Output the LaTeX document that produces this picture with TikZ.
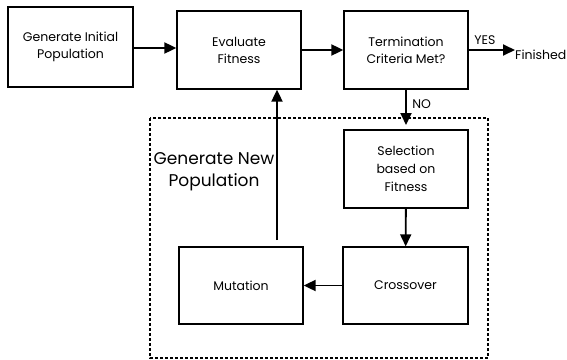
\documentclass[tikz,border=0pt]{standalone}
\usepackage{fontspec}
\setmainfont{Poppins}
\usetikzlibrary{arrows.meta}
\begin{document}
\begin{tikzpicture}[x=1pt,y=-1pt,>={Triangle[length=12pt,width=11pt]},
    blk/.style={draw,line width=1.3pt,minimum width=124pt,minimum height=78pt,inner sep=0pt,align=center,font=\fontsize{12.5}{17}\selectfont},
    flow/.style={->,line width=1.9pt},
    grp/.style={line width=1.2pt,dash pattern=on 3pt off 2pt}]
    \useasboundingbox(0,0)rectangle(567,359);
    \draw[grp](150,118)rectangle(488,358);
    \node[blk,minimum width=125pt,minimum height=80pt](init)at(70.5,47){Generate Initial\\Population};
    \node[blk](eval)at(239,50){Evaluate\\Fitness};
    \node[blk](term)at(406,50){Termination\\Criteria Met?};
    \node[blk,minimum height=78pt,font=\fontsize{12.5}{18}\selectfont](sel)at(406,169){Selection\\based on\\Fitness};
    \node[blk,minimum width=125pt,minimum height=77pt](cross)at(405.5,285.5){Crossover};
    \node[blk,minimum height=77pt](mut)at(241,285.5){Mutation};
    \node[align=center,font=\fontsize{17}{22}\selectfont](newpop)at(214,172){Generate New\\Population};
    \node[anchor=west,inner sep=0pt,font=\fontsize{12.5}{14}\selectfont](fin)at(515,55){Finished};
    \coordinate(no)at(406,125);
    \coordinate(up)at(277,240);
    \draw[flow](init.east|-0,48)--(eval.west|-0,48);
    \draw[flow](eval)--(term);
    \draw[flow](term.east)--(term.east-|fin.west)node[pos=0.35,above=1pt,font=\fontsize{12.5}{14}\selectfont]{YES};
    \draw[flow](term)--(no)node[pos=0.4,right=2pt,font=\fontsize{12.5}{14}\selectfont]{NO};
    \draw[flow](sel)--(cross);
    \draw[flow](cross)--(mut);
    \draw[flow](up)--(up|-eval.south);
\end{tikzpicture}
\end{document}
